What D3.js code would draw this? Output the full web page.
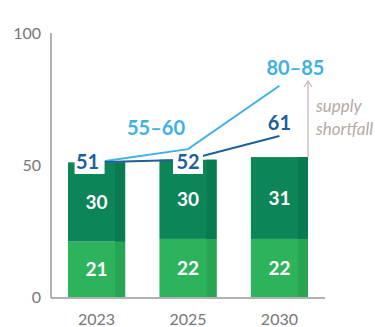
<!DOCTYPE html>
<html>
<head>
<meta charset="utf-8">
<script src="https://cdn.jsdelivr.net/npm/d3@7/dist/d3.min.js"></script>
<style>
  body { margin: 0; background: #fff; }
  svg { display: block; font-family: Lato, "Open Sans", sans-serif; }
</style>
</head>
<body>
<svg width="375" height="327"></svg>
<script>
// data
let years = ["2023", "2025", "2030"];
let lower = [21, 22, 22];
let upper = [30, 30, 31];
let supplyLine = [51, 52, 61];
let demandLine = [51, 56, 80];
let supplyLabels = ["51", "52", "61"];
let demandLabels = ["", "55–60", "80–85"];
let yTicks = [0, 50, 100];

let svg = d3.select("svg");

let x = d3.scaleBand()
	.domain(years)
	.range([51, 325])
	.paddingInner(0.375)
	.paddingOuter(0.186);
let y = d3.scaleLinear().domain([0, 100]).range([297, 33]);

let bw = x.bandwidth(),
	strip = 10,
	cx = d => x(d) + bw / 2;

// bars
let bars = svg.append("g").attr("class", "bars");
years.forEach((yr, i) => {
	let segs = [
		{ y0: 0, y1: lower[i], fill: "#2db35c", dark: "#27a553", v: lower[i] },
		{ y0: lower[i], y1: lower[i] + upper[i], fill: "#0c8558", dark: "#0a7a50", v: upper[i] }
	];
	segs.forEach(s => {
		bars.append("rect")
			.attr("x", x(yr)).attr("width", bw)
			.attr("y", y(s.y1)).attr("height", y(s.y0) - y(s.y1))
			.attr("fill", s.fill);
		bars.append("rect")
			.attr("x", x(yr) + bw - strip).attr("width", strip)
			.attr("y", y(s.y1)).attr("height", y(s.y0) - y(s.y1))
			.attr("fill", s.dark);
		bars.append("text")
			.attr("x", cx(yr))
			.attr("y", (y(s.y0) + y(s.y1)) / 2 + 7)
			.attr("text-anchor", "middle")
			.attr("fill", "#fff")
			.attr("font-weight", 700)
			.attr("font-size", 19)
			.text(s.v);
	});
});

// axes
svg.append("line")
	.attr("x1", 51).attr("x2", 51).attr("y1", y(100)).attr("y2", y(0) + 1)
	.attr("stroke", "#999").attr("stroke-width", 1.5);
svg.append("line")
	.attr("x1", 51).attr("x2", 325).attr("y1", y(0) + 1).attr("y2", y(0) + 1)
	.attr("stroke", "#999").attr("stroke-width", 1.5);

svg.append("g").selectAll("text")
	.data(yTicks)
	.enter().append("text")
	.attr("x", 41)
	.attr("y", d => y(d) + 6)
	.attr("text-anchor", "end")
	.attr("fill", "#777")
	.attr("font-size", 16)
	.text(d => d);

svg.append("g").selectAll("text")
	.data(years)
	.enter().append("text")
	.attr("x", d => cx(d))
	.attr("y", 325)
	.attr("text-anchor", "middle")
	.attr("fill", "#777")
	.attr("font-size", 16)
	.text(d => d);

// lines
let line = d3.line().x((d, i) => cx(years[i])).y(d => y(d));
svg.append("path")
	.datum(demandLine)
	.attr("d", line)
	.attr("fill", "none")
	.attr("stroke", "#3fb1e5")
	.attr("stroke-width", 2);
svg.append("path")
	.datum(supplyLine)
	.attr("d", line)
	.attr("fill", "none")
	.attr("stroke", "#1d5f98")
	.attr("stroke-width", 2);

// boxed labels for 2023 / 2025
let boxShift = [-7, 0];
[0, 1].forEach(i => {
	let px = cx(years[i]) + boxShift[i];
	svg.append("rect")
		.attr("x", px - 15).attr("y", 152)
		.attr("width", 30).attr("height", 22)
		.attr("fill", "#fff");
	svg.append("text")
		.attr("x", px - (i == 0 ? 2 : 0))
		.attr("y", 169)
		.attr("text-anchor", "middle")
		.attr("fill", "#1d5f98")
		.attr("font-weight", 700)
		.attr("font-size", 20)
		.text(supplyLabels[i]);
});
svg.append("text")
	.attr("x", cx("2030"))
	.attr("y", 130)
	.attr("text-anchor", "middle")
	.attr("fill", "#1d5f98")
	.attr("font-weight", 700)
	.attr("font-size", 20)
	.text(supplyLabels[2]);

svg.append("text")
	.attr("x", cx("2025") - 32)
	.attr("y", 135)
	.attr("text-anchor", "middle")
	.attr("fill", "#3fb1e5")
	.attr("font-weight", 700)
	.attr("font-size", 20)
	.text(demandLabels[1]);
svg.append("text")
	.attr("x", cx("2030") + 16)
	.attr("y", 75)
	.attr("text-anchor", "middle")
	.attr("fill", "#3fb1e5")
	.attr("font-weight", 700)
	.attr("font-size", 20)
	.text(demandLabels[2]);

// supply shortfall arrow
let ax = x("2030") + bw;
svg.append("line")
	.attr("x1", ax).attr("x2", ax)
	.attr("y1", y(lower[2] + upper[2])).attr("y2", 82)
	.attr("stroke", "#c8b8b6").attr("stroke-width", 1.3);
svg.append("path")
	.attr("d", `M${ax - 4},87 L${ax},81 L${ax + 4},87`)
	.attr("fill", "none")
	.attr("stroke", "#c8b8b6").attr("stroke-width", 1.3);
svg.append("text")
	.attr("x", ax + 8).attr("y", 112)
	.attr("fill", "#b8a8a6")
	.attr("font-style", "italic")
	.attr("font-size", 17)
	.text("supply");
svg.append("text")
	.attr("x", ax + 8).attr("y", 135)
	.attr("fill", "#b8a8a6")
	.attr("font-style", "italic")
	.attr("font-size", 17)
	.text("shortfall");
</script>
</body>
</html>
